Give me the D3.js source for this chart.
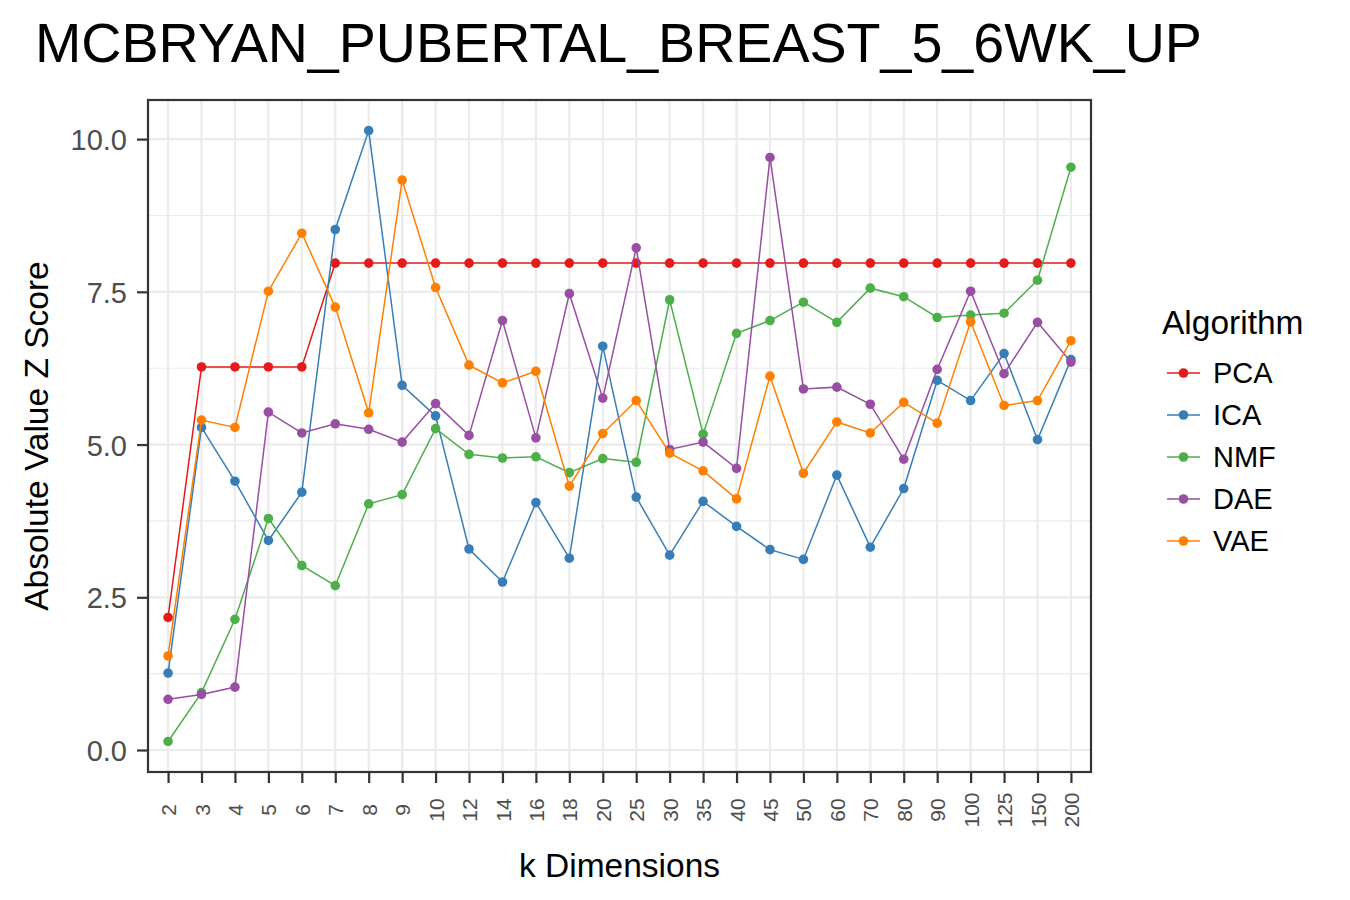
<!DOCTYPE html>
<html>
<head>
<meta charset="utf-8">
<script src="https://cdn.jsdelivr.net/npm/d3@7"></script>
<style>
  body { margin: 0; background: #fff; }
  text { font-family: "Liberation Sans", Arial, sans-serif; }
</style>
</head>
<body>
<div id="chart"></div>
<script>
// data
var kDims = ["2","3","4","5","6","7","8","9","10","12","14","16","18","20","25","30","35","40","45","50","60","70","80","90","100","125","150","200"];
var algorithms = ["PCA","ICA","NMF","DAE","VAE"];
var algoColors = ["#e41a1c","#377eb8","#4daf4a","#984ea3","#ff7f00"];
var yTicks = [0, 2.5, 5, 7.5, 10];

var pcaValues = [2.17,6.27,6.27,6.27,6.27,7.97,7.97,7.97,7.97,7.97,7.97,7.97,7.97,7.97,7.97,7.97,7.97,7.97,7.97,7.97,7.97,7.97,7.97,7.97,7.97,7.97,7.97,7.97];
var icaValues = [1.26,5.28,4.40,3.43,4.22,8.52,10.14,5.97,5.47,3.29,2.75,4.05,3.14,6.61,4.14,3.19,4.07,3.66,3.28,3.12,4.50,3.32,4.28,6.05,5.72,6.49,5.08,6.39];
var nmfValues = [0.14,0.94,2.14,3.79,3.02,2.69,4.03,4.18,5.26,4.84,4.78,4.80,4.54,4.77,4.71,7.37,5.17,6.82,7.03,7.33,7.00,7.56,7.42,7.08,7.12,7.15,7.69,9.54];
var daeValues = [0.83,0.91,1.03,5.53,5.19,5.34,5.25,5.04,5.67,5.15,7.03,5.11,7.47,5.76,8.22,4.92,5.04,4.61,9.70,5.91,5.94,5.66,4.76,6.23,7.51,6.16,7.00,6.35];
var vaeValues = [1.54,5.40,5.28,7.51,8.46,7.25,5.52,9.33,7.57,6.30,6.01,6.20,4.32,5.18,5.72,4.86,4.57,4.11,6.12,4.53,5.37,5.19,5.69,5.35,7.01,5.64,5.72,6.70];

var seriesValues = [pcaValues, icaValues, nmfValues, daeValues, vaeValues];
var series = algorithms.map(function(a, i){
  return {name: a, color: algoColors[i], values: seriesValues[i].map(function(v, j){ return {k: kDims[j], v: v}; })};
});

var W = 1350, H = 900;
var panel = {left: 148, right: 1091, top: 100, bottom: 772};

var svg = d3.select("#chart").append("svg")
  .attr("width", W).attr("height", H);

var x = d3.scalePoint()
  .domain(kDims)
  .range([panel.left, panel.right])
  .padding(0.6);

// ggplot style 5% expansion around the data range
var yMin = d3.min(seriesValues, function(s){ return d3.min(s); });
var yMax = d3.max(seriesValues, function(s){ return d3.max(s); });
var pad = (yMax - yMin) * 0.05;
var y = d3.scaleLinear()
  .domain([yMin - pad, yMax + pad])
  .range([panel.bottom, panel.top]);

// grid
var g = svg.append("g");
var minorTicks = [1.25, 3.75, 6.25, 8.75];
g.selectAll(".ymin").data(minorTicks).enter().append("line")
  .attr("x1", panel.left).attr("x2", panel.right)
  .attr("y1", function(d){ return y(d); }).attr("y2", function(d){ return y(d); })
  .attr("stroke", "#ebebeb").attr("stroke-width", 1.1);
g.selectAll(".ymaj").data(yTicks).enter().append("line")
  .attr("x1", panel.left).attr("x2", panel.right)
  .attr("y1", function(d){ return y(d); }).attr("y2", function(d){ return y(d); })
  .attr("stroke", "#ebebeb").attr("stroke-width", 2.2);
g.selectAll(".xmaj").data(kDims).enter().append("line")
  .attr("y1", panel.top).attr("y2", panel.bottom)
  .attr("x1", function(d){ return x(d); }).attr("x2", function(d){ return x(d); })
  .attr("stroke", "#ebebeb").attr("stroke-width", 2.2);

// lines and points
var line = d3.line()
  .x(function(d){ return x(d.k); })
  .y(function(d){ return y(d.v); });

series.forEach(function(s){
  svg.append("path")
    .datum(s.values)
    .attr("d", line)
    .attr("fill", "none")
    .attr("stroke", s.color)
    .attr("stroke-width", 1.5);
  svg.selectAll(null).data(s.values).enter().append("circle")
    .attr("cx", function(d){ return x(d.k); })
    .attr("cy", function(d){ return y(d.v); })
    .attr("r", 4.8)
    .attr("fill", s.color);
});

// panel border
svg.append("rect")
  .attr("x", panel.left).attr("y", panel.top)
  .attr("width", panel.right - panel.left).attr("height", panel.bottom - panel.top)
  .attr("fill", "none").attr("stroke", "#333333").attr("stroke-width", 2.2);

// axes
var yAxis = svg.append("g")
  .attr("transform", "translate(" + panel.left + ",0)")
  .call(d3.axisLeft(y).tickValues(yTicks).tickFormat(d3.format(".1f")).tickSize(11).tickPadding(10));
yAxis.select(".domain").remove();
yAxis.selectAll("line").attr("stroke", "#333333").attr("stroke-width", 2.2);
yAxis.selectAll("text").attr("fill", "#4d4d4d").style("font-size", "29px")
  .style("font-family", "Liberation Sans, Arial, sans-serif")
  .attr("dy", "0.36em");

var xAxis = svg.append("g")
  .attr("transform", "translate(0," + panel.bottom + ")")
  .call(d3.axisBottom(x).tickSize(11));
xAxis.select(".domain").remove();
xAxis.selectAll("line").attr("stroke", "#333333").attr("stroke-width", 2.2);
xAxis.selectAll("text")
  .attr("fill", "#4d4d4d")
  .style("font-size", "21px")
  .style("font-family", "Liberation Sans, Arial, sans-serif")
  .attr("text-anchor", "middle")
  .attr("dy", "0.36em")
  .attr("transform", "translate(0,38) rotate(-90)")
  .attr("x", 0).attr("y", 0);

// titles
svg.append("text")
  .attr("x", 35).attr("y", 62)
  .style("font-size", "55.6px")
  .attr("fill", "#000")
  .text("MCBRYAN_PUBERTAL_BREAST_5_6WK_UP");

svg.append("text")
  .attr("transform", "translate(48," + ((panel.top + panel.bottom) / 2) + ") rotate(-90)")
  .attr("text-anchor", "middle")
  .style("font-size", "33.5px")
  .attr("fill", "#000")
  .text("Absolute Value Z Score");

svg.append("text")
  .attr("x", (panel.left + panel.right) / 2).attr("y", 877)
  .attr("text-anchor", "middle")
  .style("font-size", "33.5px")
  .attr("fill", "#000")
  .text("k Dimensions");

// legend
var legend = svg.append("g").attr("transform", "translate(1163,0)");
legend.append("text")
  .attr("x", -1).attr("y", 334)
  .style("font-size", "33.5px")
  .attr("fill", "#000")
  .text("Algorithm");
var item = legend.selectAll(".item").data(series).enter().append("g")
  .attr("transform", function(d, i){ return "translate(0," + (373 + i * 42) + ")"; });
item.append("line")
  .attr("x1", 4).attr("x2", 37)
  .attr("stroke", function(d){ return d.color; })
  .attr("stroke-width", 1.5);
item.append("circle")
  .attr("cx", 20.5).attr("r", 4.8)
  .attr("fill", function(d){ return d.color; });
item.append("text")
  .attr("x", 50).attr("dy", "0.36em")
  .style("font-size", "29px")
  .attr("fill", "#000")
  .text(function(d){ return d.name; });
</script>
</body>
</html>
